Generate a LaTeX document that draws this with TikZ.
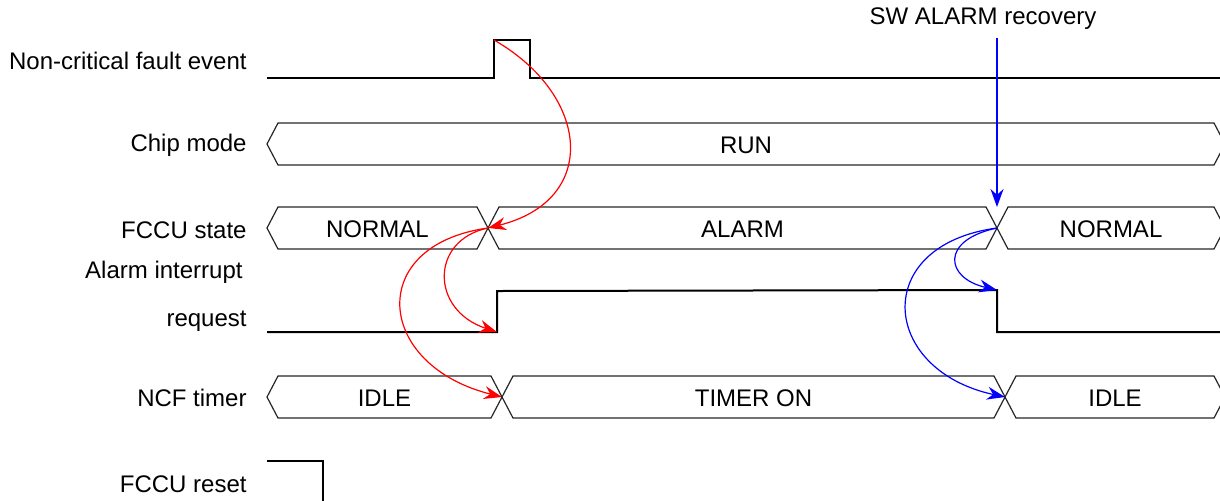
\documentclass[tikz,border=0pt]{standalone}
\usepackage{fontspec}
\setmainfont{Liberation Sans}
\usetikzlibrary{arrows.meta}

% one bus segment: name, left x, right x, centre y, text
\newcommand{\busseg}[5]{%
  \draw[busline] (#2,#4) -- (#2+11,#4-21) -- (#3-11,#4-21) -- (#3,#4)
    -- (#3-11,#4+21) -- (#2+11,#4+21) -- cycle;
  \node[bustext] (#1) at ({(#2+#3)/2},#4+1) {#5};
}

\begin{document}
\begin{tikzpicture}[x=0.5pt, y=-0.5pt,
    lbl/.style={anchor=east, inner sep=0pt, font=\fontsize{12}{14}\selectfont},
    bustext/.style={inner sep=0pt, font=\fontsize{12}{14}\selectfont},
    busline/.style={draw=black!85, line width=0.6pt, line join=miter},
    sigline/.style={draw=black, line width=1pt},
    redarr/.style={-{Stealth[length=9pt, width=6.5pt]}, red, line width=0.6pt},
    bluearr/.style={-{Stealth[length=9pt, width=6.5pt]}, blue, line width=0.6pt}
]
    \useasboundingbox (0,0) rectangle (1220,500);
    \clip (0,0) rectangle (1220,500);

    % signal names
    \node[lbl] (nfault) at (247,61) {Non-critical fault event};
    \node[lbl] (nchip) at (247,145) {Chip mode};
    \node[lbl] (nfccu) at (247,230) {FCCU state};
    \node[lbl] (nalarma) at (243,272) {Alarm interrupt};
    \node[lbl] (nalarmb) at (247,321) {request};
    \node[lbl] (nncf) at (247,398) {NCF timer};
    \node[lbl] (nreset) at (247,484) {FCCU reset};
    \node[inner sep=0pt, font=\fontsize{12}{14}\selectfont] (swrec) at (983,19) {SW ALARM recovery};

    % event points
    \coordinate (pulseup) at (494,40);
    \coordinate (fccux1) at (488,228);
    \coordinate (fccux2) at (997,228);
    \coordinate (fccutop) at (997,207);
    \coordinate (recov) at (997,38);
    \coordinate (alarmup) at (497,332);
    \coordinate (alarmdn) at (997,290);
    \coordinate (ncfx1) at (502,397);
    \coordinate (ncfx2) at (1005,397);

    % waveforms
    \draw[sigline] (267,78) -- (494,78) -- (pulseup) -- (530,40) -- (530,78) -- (1222,78);
    \busseg{run}{267}{1225}{144}{RUN}
    \busseg{normala}{267}{488}{228}{NORMAL}
    \busseg{alarm}{488}{997}{228}{ALARM}
    \busseg{normalb}{997}{1225}{228}{NORMAL}
    \draw[sigline] (267,332) -- (alarmup) -- (497,291) -- (alarmdn) -- (997,332) -- (1222,332);
    \busseg{idlea}{267}{502}{397}{IDLE}
    \busseg{timer}{502}{1005}{397}{TIMER ON}
    \busseg{idleb}{1005}{1225}{397}{IDLE}
    \draw[sigline] (267,461) -- (323,461) -- (323,502);

    % causes
    \draw[redarr] (pulseup) .. controls (590,95) and (600,200) .. (fccux1);
    \draw[redarr] (fccux1) .. controls (430,240) and (430,310) .. (alarmup);
    \draw[redarr] (fccux1) .. controls (365,245) and (375,365) .. (ncfx1);
    \draw[bluearr, line width=1pt] (recov) -- (fccutop);
    \draw[bluearr] (fccux2) .. controls (940,240) and (945,278) .. (alarmdn);
    \draw[bluearr] (fccux2) .. controls (870,245) and (880,370) .. (ncfx2);
\end{tikzpicture}
\end{document}
